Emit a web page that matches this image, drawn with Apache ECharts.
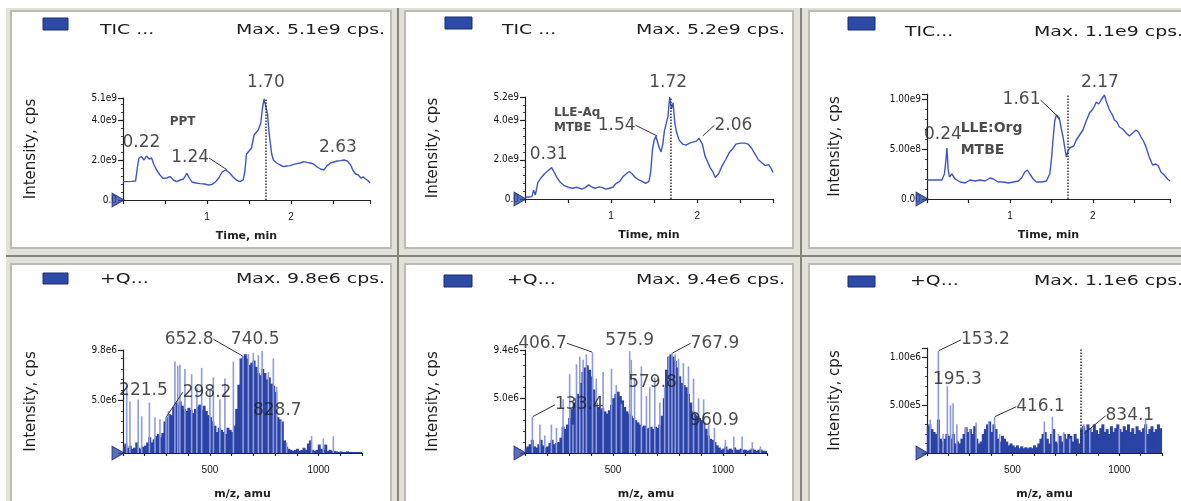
<!DOCTYPE html>
<html><head><meta charset="utf-8">
<script src="https://cdn.jsdelivr.net/npm/echarts@6/dist/echarts.min.js"></script>
<style>html,body{margin:0;padding:0;background:#fff;}#c{width:1181px;height:501px;}</style>
</head><body><div id="c"></div>
<script>
// ---------------- DATA ----------------
const ticTitles = ['TIC ...', 'TIC ...', 'TIC...'];
const specTitles = ['+Q...', '+Q...', '+Q...'];
const maxTexts = ['Max. 5.1e9 cps.', 'Max. 5.2e9 cps.', 'Max. 1.1e9 cps.', 'Max. 9.8e6 cps.', 'Max. 9.4e6 cps.', 'Max. 1.1e6 cps.'];
const yName = 'Intensity, cps';
const ticXName = 'Time, min';
const specXName = 'm/z, amu';

const ticXMax = [2.94, 2.88, 2.93];
const ticYMax = [5.1, 5.2, 1.05];
const ticYStep = [2, 2, 0.5];
const ticYTicks = [
  [[0, '0.0'], [2, '2.0e9'], [4, '4.0e9'], [5.1, '5.1e9']],
  [[0, '0.0'], [2, '2.0e9'], [4, '4.0e9'], [5.2, '5.2e9']],
  [[0, '0.00'], [0.5, '5.00e8'], [1, '1.00e9']]
];
const ticXTicks = [[1, '1'], [2, '2']];
const specXMin = 100, specXMax = 1200;
const specYMax = [9.8, 9.4, 1.1];
const specYStep = [5, 5, 0.5];
const specYTicks = [
  [[5, '5.0e6'], [9.8, '9.8e6']],
  [[5, '5.0e6'], [9.4, '9.4e6']],
  [[0.5, '5.00e5'], [1, '1.00e6']]
];
const specXTicks = [[500, '500'], [1000, '1000']];

// TIC traces: [time (min), intensity (e9 cps)]
const tic1 = [[0,0.92],[0.05,0.92],[0.10,0.93],[0.15,0.95],[0.17,1.6],[0.19,2.1],[0.22,2.17],[0.25,2.0],[0.28,2.2],[0.31,2.05],[0.34,2.1],[0.37,1.75],[0.40,1.5],[0.44,1.25],[0.48,1.08],[0.52,1.1],[0.56,1.17],[0.60,1.0],[0.64,0.92],[0.68,1.0],[0.72,1.05],[0.76,1.33],[0.79,1.1],[0.82,0.9],[0.87,0.85],[0.92,0.82],[0.97,0.8],[1.02,0.75],[1.06,0.78],[1.10,0.9],[1.14,1.1],[1.18,1.4],[1.22,1.5],[1.24,1.52],[1.27,1.35],[1.31,1.15],[1.35,1.0],[1.39,0.92],[1.43,1.0],[1.45,1.4],[1.47,2.3],[1.50,2.45],[1.53,2.6],[1.56,3.25],[1.58,3.35],[1.61,3.5],[1.64,3.85],[1.66,4.6],[1.68,5.05],[1.70,5.1],[1.72,4.3],[1.74,3.3],[1.77,2.3],[1.79,2.0],[1.83,1.85],[1.87,1.75],[1.91,1.67],[1.95,1.7],[1.99,1.72],[2.03,1.78],[2.07,1.82],[2.11,1.85],[2.15,1.92],[2.19,1.88],[2.23,1.85],[2.27,1.8],[2.31,1.65],[2.35,1.55],[2.39,1.5],[2.43,1.72],[2.47,1.85],[2.51,1.9],[2.55,1.95],[2.59,1.97],[2.63,2.0],[2.67,1.95],[2.71,1.75],[2.74,1.45],[2.77,1.3],[2.80,1.25],[2.83,1.1],[2.86,1.15],[2.89,1.05],[2.92,0.95],[2.94,0.85]];
const tic2 = [[0,0.1],[0.05,0.1],[0.08,0.12],[0.10,0.45],[0.12,0.2],[0.15,0.85],[0.19,1.1],[0.23,1.3],[0.27,1.45],[0.31,1.6],[0.34,1.35],[0.37,1.1],[0.41,0.85],[0.45,0.7],[0.50,0.6],[0.55,0.55],[0.60,0.6],[0.66,0.5],[0.70,0.58],[0.74,0.72],[0.78,0.6],[0.82,0.55],[0.86,0.62],[0.90,0.58],[0.94,0.5],[0.98,0.55],[1.02,0.6],[1.06,0.8],[1.10,0.9],[1.14,1.15],[1.18,1.3],[1.21,1.4],[1.24,1.3],[1.28,1.1],[1.32,0.98],[1.36,0.9],[1.40,0.8],[1.44,0.9],[1.46,1.4],[1.48,2.5],[1.50,3.0],[1.52,3.2],[1.54,3.1],[1.56,2.6],[1.58,2.4],[1.60,2.8],[1.62,3.5],[1.64,3.6],[1.66,4.2],[1.68,5.2],[1.70,4.6],[1.72,4.9],[1.74,3.85],[1.76,3.4],[1.79,3.0],[1.83,2.8],[1.87,2.75],[1.91,2.85],[1.95,2.9],[1.99,2.95],[2.02,3.1],[2.04,3.2],[2.06,2.8],[2.09,2.2],[2.12,1.9],[2.15,1.6],[2.18,1.4],[2.21,1.1],[2.25,1.3],[2.29,1.7],[2.33,2.0],[2.37,2.35],[2.41,2.55],[2.45,2.8],[2.50,2.85],[2.55,2.85],[2.59,2.8],[2.63,2.6],[2.67,2.3],[2.71,2.0],[2.75,1.85],[2.79,1.7],[2.83,1.75],[2.86,1.55],[2.88,1.35]];
const tic3 = [[0,0.19],[0.1,0.19],[0.18,0.19],[0.21,0.25],[0.23,0.4],[0.24,0.51],[0.255,0.3],[0.27,0.22],[0.30,0.25],[0.34,0.2],[0.40,0.17],[0.46,0.16],[0.52,0.19],[0.58,0.18],[0.64,0.19],[0.70,0.18],[0.76,0.21],[0.80,0.2],[0.86,0.17],[0.92,0.17],[0.98,0.16],[1.04,0.17],[1.10,0.18],[1.14,0.21],[1.18,0.27],[1.21,0.29],[1.24,0.25],[1.28,0.2],[1.32,0.17],[1.38,0.17],[1.44,0.18],[1.48,0.25],[1.50,0.39],[1.52,0.6],[1.54,0.78],[1.56,0.84],[1.58,0.85],[1.60,0.79],[1.62,0.7],[1.64,0.62],[1.66,0.52],[1.68,0.42],[1.70,0.48],[1.72,0.51],[1.74,0.49],[1.77,0.53],[1.80,0.59],[1.84,0.64],[1.88,0.69],[1.92,0.78],[1.96,0.86],[2.00,0.9],[2.02,0.93],[2.04,0.97],[2.07,0.95],[2.10,0.99],[2.14,1.04],[2.16,0.98],[2.20,0.89],[2.23,0.85],[2.26,0.79],[2.29,0.77],[2.32,0.72],[2.36,0.7],[2.40,0.66],[2.44,0.63],[2.48,0.66],[2.52,0.69],[2.55,0.67],[2.58,0.62],[2.61,0.58],[2.64,0.52],[2.68,0.42],[2.72,0.34],[2.76,0.35],[2.79,0.33],[2.82,0.27],[2.86,0.24],[2.90,0.2],[2.93,0.18]];
const ticMarker = [1.70, 1.69, 1.70];

// Spectra: dense envelope, one value per 10-amu bin starting at m/z 100 (e6 cps)
const env4 = [0.6,0.9,0.5,0.7,0.4,0.5,1.0,0.5,0.4,0.6, 0.7,1.0,1.5,1.0,1.3,1.6,1.8,1.5,1.9,3.0, 3.4,3.7,3.6,4.4,4.8,4.6,4.9,4.5,4.2,4.0, 4.3,4.1,3.8,4.2,4.4,4.6,4.1,4.5,4.0,3.6, 3.4,3.0,2.6,2.0,2.4,2.2,2.0,1.8,2.4,2.2, 2.0,2.6,4.2,6.5,9.0,9.2,9.4,9.0,8.4,8.6, 8.8,8.2,7.6,7.4,8.0,7.6,7.0,7.2,6.6,6.4, 5.8,3.4,3.2,3.0,1.2,0.6,0.4,0.3,0.2,0.3, 0.4,0.2,0.3,0.5,0.3,0.9,1.2,0.3,0.2,0.3, 0.8,0.4,0.3,0.8,0.2,0.3,0.2,0.2,0.15,0.1, 0.15,0.1,0.1,0.15,0.1,0.1,0.1,0.1,0.1,0.1];
const env5 = [0.4,0.6,0.8,1.2,0.6,0.5,0.8,1.2,0.7,0.5, 0.6,0.9,1.2,0.8,0.9,1.0,1.4,2.4,2.2,2.6, 3.2,4.0,4.6,5.0,5.4,6.4,7.4,7.8,8.0,7.6, 7.0,5.8,4.6,4.2,4.0,4.1,3.8,3.6,3.9,4.4, 5.0,5.4,5.6,5.2,4.8,4.2,3.8,3.6,3.4,3.2, 3.0,2.8,2.6,2.4,2.5,2.2,2.3,2.4,2.2,2.4, 2.3,2.6,3.4,5.0,7.6,8.8,9.0,8.8,8.4,7.8, 7.0,6.4,6.2,6.0,5.4,4.6,3.8,3.6,3.4,3.2, 3.0,2.8,2.2,1.6,1.3,1.2,1.0,0.7,0.5,0.3, 0.4,0.6,0.3,0.4,0.3,0.5,0.3,0.3,0.4,0.3, 0.3,0.2,0.3,0.4,0.3,0.2,0.3,0.3,0.2,0.2];
const env6 = [0.28,0.3,0.25,0.22,0.2,0.35,0.15,0.12,0.15,0.2, 0.18,0.15,0.2,0.1,0.12,0.1,0.15,0.2,0.27,0.22, 0.25,0.2,0.28,0.15,0.1,0.12,0.2,0.25,0.3,0.33, 0.22,0.3,0.25,0.15,0.12,0.18,0.15,0.12,0.08,0.1, 0.08,0.06,0.08,0.05,0.07,0.05,0.06,0.05,0.06,0.05, 0.08,0.06,0.1,0.15,0.2,0.22,0.15,0.1,0.2,0.25, 0.12,0.1,0.18,0.12,0.2,0.15,0.2,0.18,0.12,0.2, 0.15,0.1,0.25,0.28,0.24,0.3,0.26,0.22,0.3,0.24, 0.2,0.26,0.3,0.22,0.25,0.2,0.28,0.22,0.26,0.3, 0.25,0.22,0.28,0.24,0.3,0.22,0.26,0.2,0.28,0.24, 0.22,0.26,0.3,0.2,0.25,0.28,0.22,0.25,0.3,0.26];
const envStart = 100, envBin = 10;
// Spectra: individual tall peaks [m/z, e6 cps]
const spk4 = [[117,6.4],[132,4.9],[170,5.1],[186,3.5],[221.5,4.8],[247,3.4],[270,3.2],[298.2,3.4],[309,4.0],[339,8.7],[352,8.3],[362,8.4],[385,8.0],[416,7.5],[440,6.2],[462,8.1],[500,6.1],[516,7.2],[546,5.1],[569,7.1],[608,8.7],[652.8,9.2],[677,9.4],[700,9.5],[723,9.3],[740.5,9.7],[769,7.7],[792,9.0],[807,6.3],[828.7,3.1],[853,1.0],[968,1.6],[1022,1.4],[1068,1.6]];
const spk5 = [[133.4,3.3],[168,2.6],[190,1.6],[220,2.6],[243,2.3],[273,4.9],[303,7.2],[318,2.6],[334,8.1],[349,8.8],[364,8.5],[379,9.0],[406.7,9.2],[424,6.8],[455,7.4],[493,7.7],[515,6.2],[538,4.5],[575.9,9.3],[583,8.5],[598,6.8],[629,7.9],[652,5.2],[667,6.0],[690,6.9],[713,4.6],[735,6.0],[753,8.8],[767.9,9.1],[783,9.0],[798,8.6],[820,8.2],[843,7.9],[866,6.8],[889,5.0],[912,4.9],[935,2.6],[960.9,2.3],[1011,1.2],[1049,1.5],[1087,1.5],[1133,1.0],[1170,0.6]];
const spk6 = [[115,0.35],[153.2,1.07],[175,0.2],[195.3,0.7],[210,0.5],[222,0.52],[240,0.3],[282,0.27],[300,0.25],[330,0.32],[389,0.33],[416.1,0.38],[440,0.2],[649,0.33],[687,0.38],[715,0.2],[740,0.22],[768,0.15],[834.1,0.3],[862,0.25],[1000,0.25],[1123,0.35]];
const specMarker = [null, null, 817];

// Peak annotations [x, y, text]
const ann1 = [[1.70,5.1,'1.70'],[0.22,2.17,'0.22'],[1.24,1.5,'1.24'],[2.63,2.0,'2.63']];
const ann2 = [[1.72,5.2,'1.72'],[1.54,3.2,'1.54'],[2.06,3.2,'2.06'],[0.31,1.6,'0.31']];
const ann3 = [[2.17,1.04,'2.17'],[1.61,0.80,'1.61'],[0.24,0.51,'0.24']];
const ann4 = [[652.8,9.2,'652.8'],[740.5,9.7,'740.5'],[221.5,4.8,'221.5'],[298.2,3.4,'298.2'],[828.7,3.1,'828.7']];
const ann5 = [[406.7,9.2,'406.7'],[575.9,9.3,'575.9'],[767.9,9.1,'767.9'],[579.8,7.2,'579.8'],[133.4,3.3,'133.4'],[960.9,2.3,'960.9']];
const ann6 = [[153.2,1.07,'153.2'],[195.3,0.65,'195.3'],[416.1,0.38,'416.1'],[834.1,0.2,'834.1']];
// Sample notes [x, y, text]
const note1 = [[0.71, 3.9, 'PPT']];
const note2 = [[0.33, 4.0, 'LLE-Aq\nMTBE']];
const note3 = [[0.40, 0.60, 'LLE:Org\nMTBE']];

// ---------------- LAYOUT / STYLE ----------------
const FONT = "'DejaVu Sans', 'Liberation Sans', sans-serif";
const TICKFONT = "'DejaVu Sans Condensed', 'Liberation Sans Narrow', 'Liberation Sans', sans-serif";
const LINE = '#3f55c6', DARK = '#2a43a4', LIGHT = '#8f9be0', INK = '#1e1e1e';
const grids = [
  {left:123, top:98, width:247, height:102},
  {left:525, top:97, width:248, height:102},
  {left:927, top:94, width:243, height:105},
  {left:123, top:350, width:239, height:107},
  {left:525, top:350, width:242, height:108},
  {left:927, top:348, width:235, height:110}
];
// label offsets [dx, dy, leader]
const off = [
  [[0,-15,0],[0,-14,0],[-37,-12,1],[-6,-12,0]],
  [[-5,-14,0],[-41,-11,1],[31,-11,1],[-3,-13,0]],
  [[-7,-12,0],[-39,-19,1],[-4,-13,0]],
  [[-54,-17,1],[-7,-11,0],[-6,-12,0],[41,-25,1],[-4,-10,0]],
  [[-50,-9,1],[0,-11,0],[43,-10,1],[22,8,0],[47,-12,1],[0,-7,0]],
  [[47,-11,1],[10,-11,0],[46,-10,1],[46,-18,1]]
];
const noteStyle = [
  {position:'inside', fontSize:12, fontWeight:'bold', lineHeight:14},
  {position:'right', distance:0, fontSize:12, fontWeight:'bold', lineHeight:15},
  {position:'right', distance:0, fontSize:14, fontWeight:'bold', lineHeight:22}
];
const legendRects = [[43,18,25,12],[445,17,27,12],[848,17,27,13],[43,273,25,11],[444,275,28,12],[848,276,27,11]];
const titleX = [100, 502, 905, 100, 507, 910];
const maxX = [385, 785, 1183, 385, 785, 1183];
const headY = [30, 30, 32, 279, 280, 281];
const panels = [[11,11,380,237],[405,11,388,237],[809,11,374,237],[11,264,380,240],[405,264,388,240],[809,264,374,240]];

function fmtFrom(pairs) {
  return function (v) {
    for (const p of pairs) if (Math.abs(v - p[0]) < 1e-6) return p[1];
    return '';
  };
}
const axisLineStyle = {color:'#222', width:1.2};

const xAxes = [], yAxes = [], series = [];
for (let i = 0; i < 6; i++) {
  const isTic = i < 3, k = i % 3;
  xAxes.push({
    gridIndex:i, type:'value',
    min: isTic ? 0 : specXMin, max: isTic ? ticXMax[k] : specXMax,
    interval: isTic ? 0.5 : 100,
    axisLine:{show:true, onZero:false, lineStyle:axisLineStyle},
    axisTick:{show:true, length: isTic ? 4 : 3, lineStyle:axisLineStyle},
    axisLabel:{formatter: fmtFrom(isTic ? ticXTicks : specXTicks), fontSize:10, color:'#111', margin:12, fontFamily:"'Liberation Sans', sans-serif"},
    splitLine:{show:false},
    name: isTic ? ticXName : specXName, nameLocation:'middle', nameGap: isTic ? 31 : 36,
    nameTextStyle:{fontSize:11, fontWeight:'bold', color:INK, fontFamily:FONT}
  });
  yAxes.push({
    gridIndex:i, type:'value', min:0,
    max: isTic ? ticYMax[k] : specYMax[k],
    interval: isTic ? ticYStep[k] : specYStep[k],
    axisLine:{show:true, onZero:false, lineStyle:axisLineStyle},
    axisTick:{show:true, length:5, lineStyle:axisLineStyle},
    minorTick:{show:true, splitNumber:5, length:2, lineStyle:{color:'#444', width:1}},
    axisLabel:{formatter: fmtFrom(isTic ? ticYTicks[k] : specYTicks[k]), fontSize:10, color:'#111', margin:6, fontFamily:TICKFONT},
    splitLine:{show:false},
    name: yName, nameLocation:'middle', nameGap:84, nameRotate:90,
    nameTextStyle:{fontSize:15, color:INK, fontFamily:FONT}
  });
  if (isTic) {
    const tic = [tic1, tic2, tic3][k];
    series.push({
      type:'line', xAxisIndex:i, yAxisIndex:i, data:tic, showSymbol:false, z:3,
      lineStyle:{color:LINE, width:1.4}, silent:true,
      markLine:{symbol:['none','none'], silent:true, label:{show:false},
        lineStyle:{type:'dotted', color:'#333', width:1.5}, data:[{xAxis:ticMarker[k]}]}
    });
  } else {
    const env = [env4, env5, env6][k], spk = [spk4, spk5, spk6][k];
    const envSeries = {
      type:'bar', xAxisIndex:i, yAxisIndex:i,
      data: env.map((v, j) => [envStart + envBin * j, v]),
      barWidth:3, barGap:'-100%', itemStyle:{color:DARK}, silent:true, z:2
    };
    if (specMarker[k] !== null) {
      envSeries.markLine = {symbol:['none','none'], silent:true, label:{show:false},
        lineStyle:{type:'dotted', color:'#333', width:1.5}, data:[{xAxis:specMarker[k]}]};
    }
    series.push(envSeries);
    series.push({
      type:'bar', xAxisIndex:i, yAxisIndex:i, data:spk,
      barWidth:1.6, barGap:'-100%', itemStyle:{color:LIGHT}, silent:true, z:3
    });
  }
  // peak annotations
  const ann = [ann1, ann2, ann3, ann4, ann5, ann6][i];
  const o = off[i];
  series.push({
    type:'scatter', xAxisIndex:i, yAxisIndex:i, clip:false, silent:true, z:6,
    symbolSize:1, itemStyle:{color:'rgba(0,0,0,0)'},
    data: ann.map((a, j) => ({value:[a[0], a[1]], labelLine:{show: !!o[j][2]}})),
    label:{show:true, position:'inside', formatter: p => ann[p.dataIndex][2],
      fontSize:17, color:INK, fontFamily:FONT},
    labelLayout: p => ({dx:o[p.dataIndex][0], dy:o[p.dataIndex][1]}),
    labelLine:{show:false, lineStyle:{color:'#333', width:1}}
  });
  if (isTic) {
    const note = [note1, note2, note3][k];
    series.push({
      type:'scatter', xAxisIndex:i, yAxisIndex:i, clip:false, silent:true, z:6,
      symbolSize:1, itemStyle:{color:'rgba(0,0,0,0)'},
      data: note.map(a => [a[0], a[1]]),
      label:Object.assign({show:true, formatter: p => note[p.dataIndex][2], color:INK, fontFamily:FONT}, noteStyle[k])
    });
  }
  // origin triangle
  series.push({
    type:'scatter', xAxisIndex:i, yAxisIndex:i, clip:false, silent:true, z:7,
    data:[[isTic ? 0 : specXMin, 0]], symbol:'triangle', symbolSize:[14,12], symbolRotate:-90, symbolOffset:[-5,0],
    itemStyle:{color:'#3149a9', borderColor:'#1b2b6b', borderWidth:1}
  });
}

// background frame
const elements = [];
elements.push({type:'rect', z:-30, silent:true, shape:{x:6, y:8, width:1175, height:493}, style:{fill:'#e2e1d9'}});
elements.push({type:'rect', z:-29, silent:true, shape:{x:397, y:8, width:2, height:493}, style:{fill:'#86857b'}});
elements.push({type:'rect', z:-29, silent:true, shape:{x:800, y:8, width:2, height:493}, style:{fill:'#86857b'}});
elements.push({type:'rect', z:-29, silent:true, shape:{x:6, y:255, width:1175, height:2}, style:{fill:'#86857b'}});
panels.forEach(p => elements.push({type:'rect', z:-28, silent:true, shape:{x:p[0], y:p[1], width:p[2], height:p[3]}, style:{fill:'#fff', stroke:'#bdbcb3', lineWidth:2}}));
for (let i = 0; i < 6; i++) {
  const r = legendRects[i];
  elements.push({type:'rect', z:10, silent:true, shape:{x:r[0], y:r[1], width:r[2], height:r[3]}, style:{fill:'#2c4aa6', stroke:'#1d2d6e', lineWidth:1}});
  const t = i < 3 ? ticTitles[i] : specTitles[i - 3];
  elements.push({type:'text', z:10, silent:true, x:titleX[i], y:headY[i], scaleX:1.35,
    style:{text:t, font:'14px ' + FONT, fill:INK, textAlign:'left', align:'left', textVerticalAlign:'middle', verticalAlign:'middle'}});
  elements.push({type:'text', z:10, silent:true, x:maxX[i], y:headY[i], scaleX:1.35,
    style:{text:maxTexts[i], font:'14px ' + FONT, fill:INK, textAlign:'right', align:'right', textVerticalAlign:'middle', verticalAlign:'middle'}});
}

const chart = echarts.init(document.getElementById('c'), null, {renderer:'canvas'});
chart.setOption({
  animation:false,
  backgroundColor:'#ffffff',
  textStyle:{fontFamily:FONT},
  grid: grids.map(g => Object.assign({containLabel:false}, g)),
  xAxis:xAxes, yAxis:yAxes, series:series,
  graphic:{elements:elements}
});
</script></body></html>
